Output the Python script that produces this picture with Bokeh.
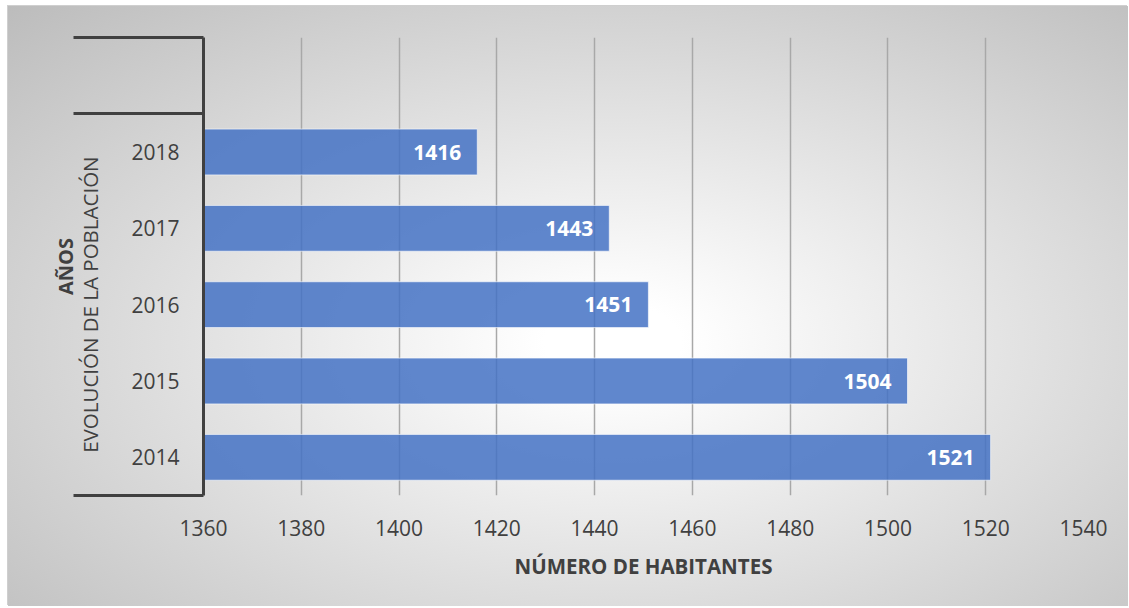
from bokeh.plotting import figure
from bokeh.models import FixedTicker, LinearAxis, Range1d
from bokeh.embed import file_html
from bokeh.resources import INLINE
from bokeh.core.properties import value

# ---- data ----
years = ["2014", "2015", "2016", "2017", "2018"]
habitantes = [1521, 1504, 1451, 1443, 1416]
x_ticks = [1360, 1380, 1400, 1420, 1440, 1460, 1480, 1500, 1520, 1540]
group_label = "EVOLUCIÓN DE LA POBLACIÓN"
y_title = "AÑOS"
x_title = "NÚMERO DE HABITANTES"

FONT = "Open Sans"
TXT = "#404040"
AXIS = "#404040"

pos = list(range(len(years)))
n = len(years)
group_center = (pos[0] + pos[-1]) / 2

p = figure(width=1120, height=600, output_backend="svg", toolbar_location=None,
           x_range=Range1d(x_ticks[0], x_ticks[-1]),
           y_range=Range1d(-0.5, n + 0.5),
           y_axis_location=None,
           min_border_left=195, min_border_right=45,
           min_border_top=31, min_border_bottom=111)

p.background_fill_color = None
p.border_fill_color = None
p.outline_line_color = None
p.styles = {
    "margin-left": "8px",
    "margin-top": "6px",
    "background-image": "radial-gradient(ellipse farthest-corner at 54% 56%, #ffffff 0%, #ffffff 8%, #bcbcbc 100%)",
    "box-shadow": "-1px -1px 0 #cfcfcf",
}

# grid
p.ygrid.visible = False
p.xgrid.ticker = FixedTicker(ticks=x_ticks)
p.xgrid.grid_line_color = "#a8a8a8"
p.xgrid.grid_line_width = 1.5

# bars
p.hbar(y=pos, left=x_ticks[0], right=habitantes, height=0.6,
       fill_color="#4472C4", fill_alpha=0.85,
       line_color="#ffffff", line_alpha=0.6, line_width=1)

p.text(x=habitantes, y=pos, text=[str(v) for v in habitantes],
       x_offset=-16, text_align="right", text_baseline="middle",
       text_color="white", text_font_style="bold", text_font_size="21px",
       text_font=value(FONT))

# x axis
xa = p.xaxis[0]
xa.ticker = FixedTicker(ticks=x_ticks)
xa.axis_line_color = None
xa.major_tick_line_color = None
xa.minor_tick_line_color = None
xa.major_label_text_font = FONT
xa.major_label_text_font_size = "21px"
xa.major_label_text_color = TXT
xa.major_label_standoff = 18
xa.axis_label = x_title
xa.axis_label_text_font = FONT
xa.axis_label_text_font_size = "20.5px"
xa.axis_label_text_font_style = "bold"
xa.axis_label_text_color = TXT
xa.axis_label_standoff = 13

# y axis 1 (closest): year labels + full-height axis line
ya = LinearAxis(ticker=FixedTicker(ticks=pos),
                major_label_overrides={i: y for i, y in zip(pos, years)})
ya.major_tick_line_color = None
ya.major_tick_out = 0
ya.major_tick_in = 0
ya.minor_tick_line_color = None
ya.minor_tick_out = 0
ya.minor_tick_in = 0
ya.axis_line_color = AXIS
ya.axis_line_width = 3
ya.major_label_text_font = FONT
ya.major_label_text_font_size = "21px"
ya.major_label_text_color = TXT
ya.major_label_standoff = 24
p.add_layout(ya, "left")

# y axis 2: group label centred on the year categories
yg = LinearAxis(ticker=FixedTicker(ticks=[group_center]),
                major_label_overrides={group_center: group_label})
yg.axis_line_color = None
yg.major_tick_line_color = None
yg.minor_tick_line_color = None
yg.major_tick_out = 0
yg.minor_tick_out = 0
yg.major_label_orientation = "parallel"
yg.major_label_standoff = 24
yg.major_label_text_font = FONT
yg.major_label_text_font_size = "20.5px"
yg.major_label_text_color = TXT
p.add_layout(yg, "left")

# y axis 3 (outer): category boundary lines + axis title
yt = LinearAxis(ticker=FixedTicker(ticks=[], minor_ticks=[-0.5, n - 0.5, n + 0.5]))
yt.axis_line_color = None
yt.major_tick_line_color = None
yt.major_tick_out = 0
yt.major_label_standoff = 0
yt.minor_tick_line_color = AXIS
yt.minor_tick_line_width = 3
yt.minor_tick_in = 130
yt.minor_tick_out = 0
yt.axis_label = y_title
yt.axis_label_text_font = FONT
yt.axis_label_text_font_size = "20px"
yt.axis_label_text_font_style = "bold"
yt.axis_label_text_color = TXT
yt.axis_label_standoff = -5
p.add_layout(yt, "left")

open("out.html", "w").write(file_html(p, INLINE))
